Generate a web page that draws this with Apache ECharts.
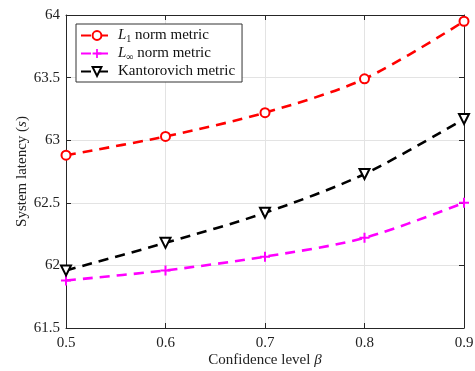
<!DOCTYPE html>
<html>
<head>
<meta charset="utf-8">
<script src="https://cdn.jsdelivr.net/npm/echarts@6/dist/echarts.min.js"></script>
<style>
  html, body { margin: 0; padding: 0; background: #fff; }
  #chart { width: 475px; height: 371px; }
</style>
</head>
<body>
<div id="chart"></div>
<script>
const betas = [0.5, 0.6, 0.7, 0.8, 0.9];
const l1Norm = [62.88, 63.03, 63.22, 63.49, 63.95];
const lInfNorm = [61.88, 61.96, 62.07, 62.22, 62.5];
const kantorovich = [61.96, 62.18, 62.42, 62.73, 63.17];

const serif = "Liberation Serif";
const plusPath = "path://M4,0H6V4H10V6H6V10H4V6H0V4H4Z";

function pairs(ys) {
  return betas.map((b, i) => [b, ys[i]]);
}

const chart = echarts.init(document.getElementById("chart"));

const gridLine = { show: true, lineStyle: { color: "#e3e3e3", width: 1 } };
const axisLine = { show: true, onZero: false, lineStyle: { color: "#262626", width: 1 } };
const tick = { show: true, inside: true, length: 5, lineStyle: { color: "#262626" } };

const option = {
  animation: false,
  backgroundColor: "#fff",
  grid: { left: 66, right: 11, top: 15, bottom: 43, outerBoundsMode: "none", containLabel: false },

  legend: {
    left: 76,
    top: 24,
    orient: "vertical",
    backgroundColor: "#fff",
    borderColor: "#333",
    borderWidth: 1,
    borderRadius: 0,
    padding: [4, 7, 3, 4],
    itemGap: 2,
    itemWidth: 32,
    itemHeight: 11,
    textStyle: {
      fontFamily: serif,
      fontSize: 15,
      color: "#111",
      rich: {
        it: { fontFamily: serif, fontStyle: "italic", fontSize: 15, color: "#111" },
        sub: { fontFamily: serif, fontSize: 10, color: "#111", verticalAlign: "bottom", padding: [7, 0, 0, 0] },
        t: { fontFamily: serif, fontSize: 15, color: "#111" }
      }
    },
    formatter: function (name) {
      if (name === "L1") return "{it|L}{sub|1}{t| norm metric}";
      if (name === "Linf") return "{it|L}{sub|∞}{t| norm metric}";
      return "{t|Kantorovich metric}";
    },
    data: ["L1", "Linf", "Kantorovich"]
  },

  xAxis: [
    {
      type: "value",
      min: 0.5,
      max: 0.9,
      interval: 0.1,
      name: "Confidence level {b|β}",
      nameLocation: "middle",
      nameGap: 25,
      nameMoveOverlap: false,
      nameTextStyle: {
        fontFamily: serif,
        fontSize: 15,
        color: "#222",
        rich: { b: { fontFamily: serif, fontStyle: "italic", fontSize: 15, color: "#222" } }
      },
      axisLine: axisLine,
      axisTick: tick,
      axisLabel: { fontFamily: serif, fontSize: 15, color: "#222", margin: 8, formatter: v => v.toFixed(1) },
      splitLine: gridLine
    },
    {
      type: "value",
      position: "top",
      min: 0.5,
      max: 0.9,
      interval: 0.1,
      axisLine: axisLine,
      axisTick: tick,
      axisLabel: { show: false },
      splitLine: { show: false }
    }
  ],

  yAxis: [
    {
      type: "value",
      min: 61.5,
      max: 64,
      interval: 0.5,
      name: "System latency ({s|s})",
      nameLocation: "middle",
      nameGap: 36,
      nameMoveOverlap: false,
      nameTextStyle: {
        fontFamily: serif,
        fontSize: 15,
        color: "#222",
        rich: { s: { fontFamily: serif, fontStyle: "italic", fontSize: 15, color: "#222" } }
      },
      axisLine: axisLine,
      axisTick: tick,
      axisLabel: { fontFamily: serif, fontSize: 15, color: "#222", margin: 6 },
      splitLine: gridLine
    },
    {
      type: "value",
      position: "right",
      min: 61.5,
      max: 64,
      interval: 0.5,
      axisLine: axisLine,
      axisTick: tick,
      axisLabel: { show: false },
      splitLine: { show: false }
    }
  ],

  series: [
    {
      name: "L1",
      type: "line",
      data: pairs(l1Norm),
      smooth: 0.3,
      symbol: "emptyCircle",
      symbolSize: 9,
      color: "#ff0000",
      lineStyle: { color: "#ff0000", width: 2.6, type: [10, 7] },
      itemStyle: { color: "#ff0000", borderWidth: 2.4 },
      z: 3
    },
    {
      name: "Linf",
      type: "line",
      data: pairs(lInfNorm),
      smooth: 0.3,
      symbol: plusPath,
      symbolSize: 10,
      color: "#ff00ff",
      lineStyle: { color: "#ff00ff", width: 2.6, type: [10, 7] },
      itemStyle: { color: "#ff00ff" },
      z: 3
    },
    {
      name: "Kantorovich",
      type: "line",
      data: pairs(kantorovich),
      smooth: 0.3,
      symbol: "emptyTriangle",
      symbolRotate: 180,
      symbolSize: 10,
      color: "#000000",
      lineStyle: { color: "#000000", width: 2.6, type: [10, 7] },
      itemStyle: { color: "#000000", borderWidth: 2.4 },
      z: 3
    }
  ]
};

chart.setOption(option);
</script>
</body>
</html>
